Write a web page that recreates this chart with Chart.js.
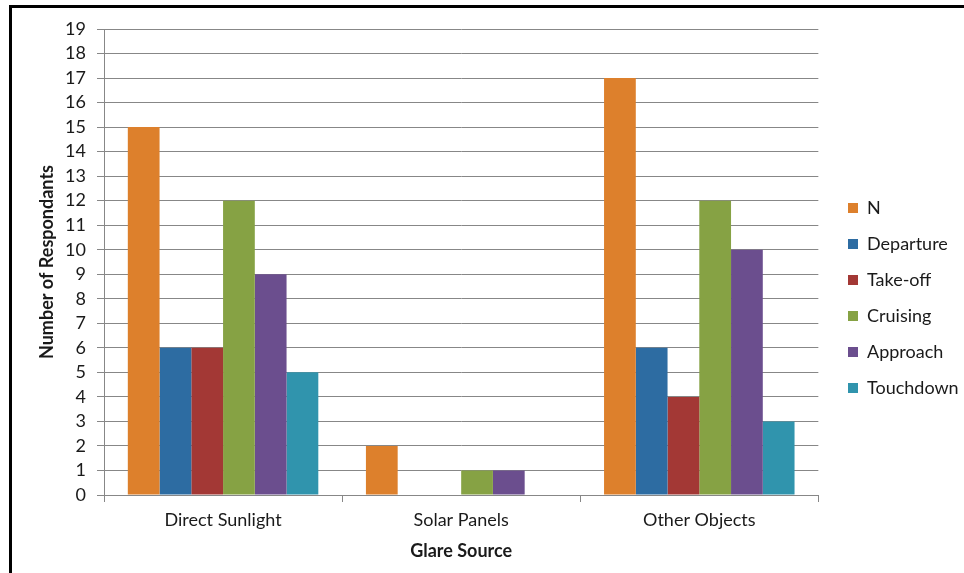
<!DOCTYPE html>
<html><head><meta charset="utf-8">
<script src="https://cdn.jsdelivr.net/npm/chart.js@4.4.1/dist/chart.umd.min.js"></script>
<style>html,body{margin:0;padding:0;background:#fff}#wrap{width:964px;height:573px;position:relative}</style>
</head><body><div id="wrap"><canvas id="c" width="964" height="573"></canvas></div>
<script>
const categories = ['Direct Sunlight', 'Solar Panels', 'Other Objects'];
const seriesNames = ['N', 'Departure', 'Take-off', 'Cruising', 'Approach', 'Touchdown'];
const nValues = [15, 2, 17];
const departureValues = [6, 0, 6];
const takeoffValues = [6, 0, 4];
const cruisingValues = [12, 1, 12];
const approachValues = [9, 1, 10];
const touchdownValues = [5, 0, 3];
const seriesColors = ['#DD802C', '#2D6CA2', '#A33835', '#86A244', '#6B4E8E', '#3094AD'];
const yTicks = Array.from({length: 20}, (_, i) => i);

const FONT = 'Lato';
const TXT = '#1a1a1a';
const GRID = '#878787';

const allValues = [nValues, departureValues, takeoffValues, cruisingValues, approachValues, touchdownValues];

const framePlugin = {
  id: 'frame',
  afterLayout(chart) {
    const L = chart.legend;
    const dx = 848 - (L.left + L.options.labels.padding);
    L.left += dx; L.right += dx;
    L.top -= 3; L.bottom -= 3;
  },
  afterDraw(chart) {
    const ctx = chart.ctx;
    ctx.save();
    ctx.fillStyle = '#000';
    ctx.fillRect(9, 5, 964 - 9, 3);
    ctx.fillRect(9, 5, 3, 573 - 5);
    ctx.restore();
  }
};

new Chart(document.getElementById('c'), {
  type: 'bar',
  data: {
    labels: categories,
    datasets: seriesNames.map((name, i) => ({
      label: name,
      data: allValues[i],
      backgroundColor: seriesColors[i],
      borderWidth: 0,
      categoryPercentage: 0.8,
      barPercentage: 1.0
    }))
  },
  options: {
    responsive: false,
    animation: false,
    layout: {padding: {left: 12, top: 29, right: 7, bottom: 0}},
    plugins: {
      legend: {
        position: 'right',
        align: 'center',
        labels: {
          boxWidth: 10, boxHeight: 10, padding: 18,
          color: TXT,
          font: {family: FONT, size: 18}
        }
      },
      tooltip: {enabled: false}
    },
    scales: {
      x: {
        grid: {display: true, drawOnChartArea: false, drawTicks: true, tickLength: 7, color: GRID, offset: true},
        border: {display: true, color: GRID, width: 1},
        ticks: {color: TXT, font: {family: FONT, size: 18}, padding: 7, autoSkip: false, maxRotation: 0},
        title: {display: true, text: 'Glare Source', color: TXT, font: {family: FONT, size: 18, weight: 'bold'}, padding: {top: 11, bottom: 11}},
        afterFit(s) { s.height = 78; }
      },
      y: {
        min: 0, max: 19,
        afterBuildTicks(s) { s.ticks = yTicks.map(v => ({value: v})); },
        grid: {color: GRID, drawTicks: true, tickLength: 7},
        border: {display: true, color: GRID, width: 1},
        ticks: {color: TXT, font: {family: FONT, size: 18}, padding: 11, stepSize: 1, autoSkip: false},
        title: {display: true, text: 'Number of Respondants', color: TXT, font: {family: FONT, size: 18, weight: 'bold'}, padding: {top: 24, bottom: 24}},
        afterFit(s) { s.width = 92; }
      }
    }
  },
  plugins: [framePlugin]
});
</script></body></html>
